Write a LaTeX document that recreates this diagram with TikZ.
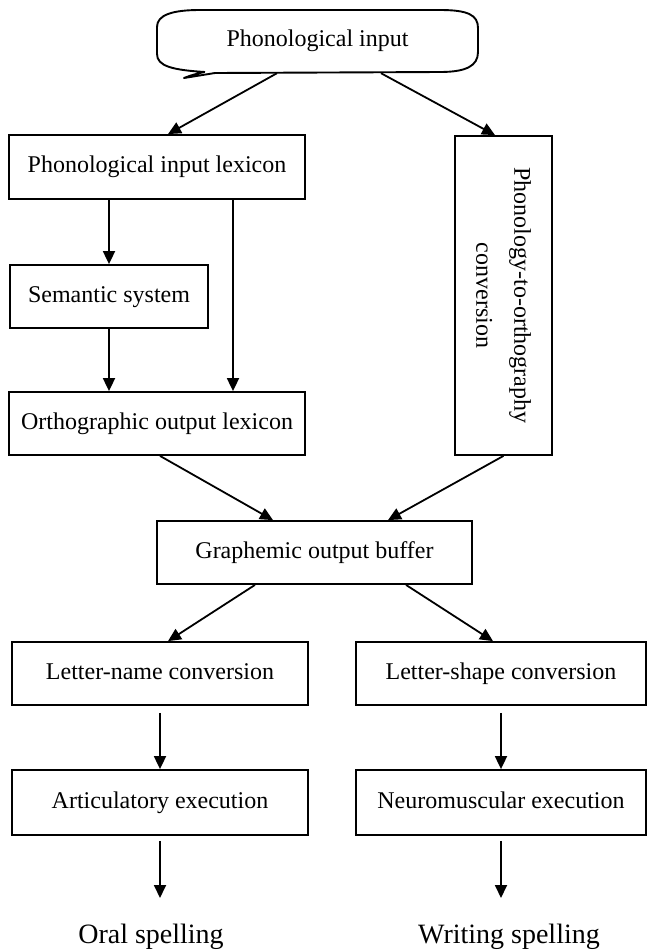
\documentclass[tikz,border=0pt]{standalone}
\usepackage{fontspec}
\setmainfont{Liberation Serif}
\usetikzlibrary{arrows.meta}
\begin{document}
\begin{tikzpicture}[x=1pt,y=-1pt,
  box/.style={draw,line width=1.8pt,inner sep=0pt,text height=16pt,text depth=5pt,font=\fontsize{24}{29}\selectfont},
  arr/.style={line width=1.8pt,-{Triangle[length=13pt,width=12pt]}},
  lbl/.style={inner sep=0pt,text height=19pt,text depth=6pt,font=\fontsize{28}{34}\selectfont}]
\useasboundingbox[fill=white] (0,0) rectangle (649,951);
% top input shape
\draw[line width=1.9pt,line join=round]
  (205,72) .. controls (172,70) and (157,66) .. (157,54) -- (157,27)
  .. controls (157,15) and (172,10) .. (200,10) -- (440,10)
  .. controls (468,10) and (478,15) .. (478,28) -- (478,52)
  .. controls (478,66) and (466,72) .. (440,72) -- (215,73) -- (184,78)
  .. controls (192,75) .. (204,72);
\node[inner sep=0pt,minimum width=321pt,minimum height=64pt,text height=16pt,text depth=5pt,font=\fontsize{24}{29}\selectfont] (top) at (317.5,41) {Phonological input};
% boxes
\node[box,minimum width=296pt,minimum height=64pt] (pil) at (157,167) {Phonological input lexicon};
\node[box,minimum width=198pt,minimum height=63pt] (sem) at (109,296.5) {Semantic system};
\node[box,minimum width=296pt,minimum height=63pt] (ool) at (157,423.5) {Orthographic output lexicon};
\node[box,minimum width=97pt,minimum height=319pt] (poc) at (503.5,295.5) {};
\node[rotate=-90,align=center,inner sep=0pt,font=\fontsize{24}{29}\selectfont] (poctext) at (poc.center) {Phonology-to-orthography\\[9pt]conversion};
\node[box,minimum width=315pt,minimum height=63pt] (gob) at (314.5,552.5) {Graphemic output buffer};
\node[box,minimum width=296pt,minimum height=63pt] (ln) at (160,673.5) {Letter-name conversion};
\node[box,minimum width=290pt,minimum height=63pt] (ls) at (501,673.5) {Letter-shape conversion};
\node[box,minimum width=296pt,minimum height=65pt] (ae) at (160,802.5) {Articulatory execution};
\node[box,minimum width=290pt,minimum height=65pt] (ne) at (501,802.5) {Neuromuscular execution};
\node[lbl] (oral) at (151,937) {Oral spelling};
\node[lbl] (writ) at (509,937) {Writing spelling};
\coordinate (oralin) at (160,898);
\coordinate (writin) at (501,898);
% connectors
\draw[arr] ([xshift=-40.5pt]top.south) -- ([xshift=11pt]pil.north);
\draw[arr] ([xshift=63.5pt]top.south) -- ([xshift=-8.5pt]poc.north);
\draw[arr] (sem.north |- pil.south) -- (sem.north);
\draw[arr] ([xshift=76pt]pil.south) -- ([xshift=76pt]ool.north);
\draw[arr] (sem.south) -- (sem.south |- ool.north);
\draw[arr] ([xshift=3pt]ool.south) -- ([xshift=-41.5pt]gob.north);
\draw[arr] (poc.south) -- ([xshift=73.5pt]gob.north);
\draw[arr] ([xshift=-59.5pt]gob.south) -- ([xshift=8pt]ln.north);
\draw[arr] ([xshift=91.5pt]gob.south) -- ([xshift=-8pt]ls.north);
\draw[arr] ([yshift=-7pt]ln.south) -- (ae.north);
\draw[arr] ([yshift=-7pt]ls.south) -- (ne.north);
\draw[arr] ([yshift=-5pt]ae.south) -- (oralin);
\draw[arr] ([yshift=-5pt]ne.south) -- (writin);
\end{tikzpicture}
\end{document}
